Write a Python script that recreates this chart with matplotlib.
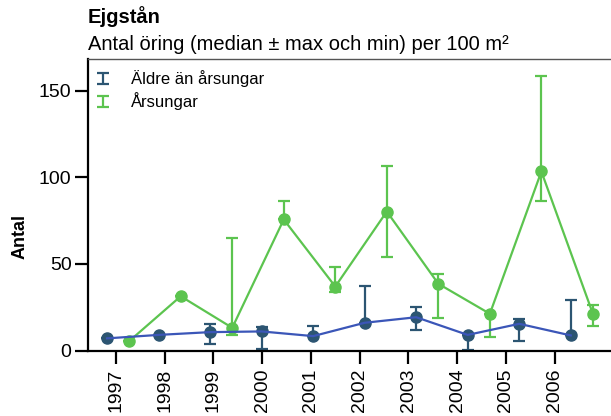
import numpy as np
import matplotlib
matplotlib.use('Agg')
import matplotlib.pyplot as plt
from matplotlib.legend_handler import HandlerErrorbar

plt.rcParams['font.family'] = ['Liberation Sans', 'DejaVu Sans']

years = ['1997', '1998', '1999', '2000', '2001', '2002', '2003', '2004', '2005', '2006']

# Äldre än årsungar
old_med = [7, 9, 10.6, 11, 8.3, 16, 19.2, 9, 15.4, 8.7]
old_max = [7, 9, 15.4, 13.5, 14, 37.5, 25, 9, 18.3, 29.4]
old_min = [7, 9, 3.8, 1, 8.3, 16, 12, 0.5, 5.4, 8.7]

# Årsungar
young_med = [5.4, 31.3, 13.1, 75.6, 36.9, 80.2, 38.5, 21.2, 103.3, 21.2]
young_max = [5.4, 31.3, 64.8, 86.5, 48, 106.7, 44, 21.2, 158.3, 26.3]
young_min = [5.4, 31.3, 9, 75.6, 33.7, 53.8, 19, 7.7, 86.5, 14]

c_old = '#2c5572'
c_old_line = '#3b56b8'
c_young = '#5cc44f'

x_old = np.arange(len(years))
x_young = x_old + 0.43
tick_pos = 0.175 + 0.9456 * np.arange(len(years))

fig = plt.figure(figsize=(6.11, 4.16), dpi=100)
W, H = 611, 416
ax = fig.add_axes([87.5 / W, (H - 350.5) / H, (613 - 87.5) / W, (350.5 - 58.5) / H])

old_med = np.array(old_med)
young_med = np.array(young_med)
old_err = [old_med - np.array(old_min), np.array(old_max) - old_med]
young_err = [young_med - np.array(young_min), np.array(young_max) - young_med]

e1 = ax.errorbar(x_old, old_med, yerr=old_err, fmt='none', ecolor=c_old,
                 elinewidth=1.6, capsize=4.5, capthick=1.6, label='Äldre än årsungar', zorder=2)
e2 = ax.errorbar(x_young, young_med, yerr=young_err, fmt='none', ecolor=c_young,
                 elinewidth=1.6, capsize=4.5, capthick=1.6, label='Årsungar', zorder=2)

ax.plot(x_young, young_med, color=c_young, lw=1.6, zorder=3)
ax.plot(x_young, young_med, 'o', color=c_young, ms=8, zorder=4)
ax.plot(x_old, old_med, 'o', color=c_old, ms=8, zorder=4)
ax.plot(x_old, old_med, color=c_old_line, lw=1.6, zorder=5)

ax.set_xlim(-0.379, 9.82)
ax.set_ylim(0, 168.5)
ax.set_yticks([0, 50, 100, 150])
ax.set_xticks(tick_pos)
ax.set_xticklabels(years, rotation=90)

ax.spines['right'].set_visible(False)
ax.spines['top'].set_color('#555555')
ax.spines['top'].set_linewidth(1.0)
ax.spines['left'].set_linewidth(1.6)
ax.spines['bottom'].set_linewidth(1.6)
ax.tick_params(axis='y', length=9.5, width=1.6, labelsize=14, pad=2)
ax.tick_params(axis='x', length=9, width=1.6, labelsize=14, pad=4)

hm = {e1: HandlerErrorbar(xerr_size=0.3, yerr_size=0.32),
      e2: HandlerErrorbar(xerr_size=0.3, yerr_size=0.32)}
ax.legend(loc='upper left', frameon=False, fontsize=12, handlelength=0.7,
          handletextpad=1.35, labelspacing=0.3, borderaxespad=0.3,
          bbox_to_anchor=(-0.004, 1.0), handler_map=hm)

fig.text(20 / W, 1 - 236.5 / H, 'Antal', rotation=90, fontsize=13, fontweight='bold',
         ha='center', va='center')
fig.text(88 / W, 1 - 22.7 / H, 'Ejgstån', fontsize=14.5, fontweight='bold', va='baseline')
fig.text(88 / W, 1 - 50 / H, 'Antal öring (median ± max och min) per 100 m²', fontsize=14.5,
         va='baseline')

fig.savefig('out.png', dpi=100)
